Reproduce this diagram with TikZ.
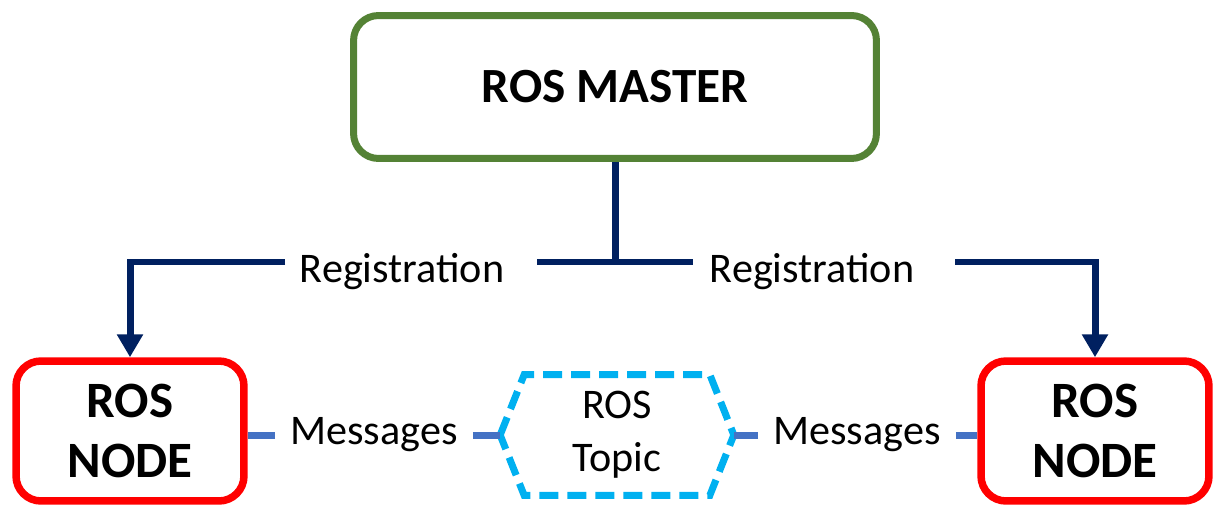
\documentclass[tikz,border=0pt]{standalone}
\usepackage{fontspec}
\setmainfont{Carlito}
\usetikzlibrary{arrows.meta,positioning}

\definecolor{masterGreen}{RGB}{84,130,53}
\definecolor{regBlue}{RGB}{0,32,96}
\definecolor{topicCyan}{RGB}{0,176,240}
\definecolor{msgBlue}{RGB}{68,114,196}

\begin{document}
\begin{tikzpicture}[x=0.02cm,y=-0.02cm,
    master/.style={draw=masterGreen, line width=0.14cm, rounded corners=0.5cm,
        minimum width=10.46cm, minimum height=2.86cm,
        font=\bfseries\fontsize{28}{34}\selectfont},
    rosnode/.style={draw=red, line width=0.15cm, rounded corners=0.5cm,
        minimum width=4.56cm, minimum height=2.8cm, align=center,
        font=\bfseries\fontsize{29}{34}\selectfont},
    topicbox/.style={minimum width=4.66cm, minimum height=2.4cm, inner sep=0pt,
        align=center, font=\fontsize{24}{30}\selectfont},
    topicline/.style={draw=topicCyan, line width=0.14cm, dash pattern=on 0.38cm off 0.18cm},
    label/.style={inner sep=0pt, inner xsep=0.3cm, font=\fontsize{24}{28}\selectfont},
    reg/.style={draw=regBlue, line width=0.14cm},
    msg/.style={draw=msgBlue, line width=0.14cm}
]

      \useasboundingbox (0,0) rectangle (1220,513);

      % Boxes
      \node[master] (master) at (615,87) {ROS MASTER};
      \node[rosnode] (nodeL) at (130,431) {ROS\\NODE};
      \node[rosnode] (nodeR) at (1095,431) {ROS\\NODE};
      \node[topicbox] (topic) at (617,435) {ROS\\Topic};

      % Hexagon round the topic
      \draw[topicline] (topic.west) -- ([xshift=0.48cm]topic.north west)
          -- ([xshift=-0.48cm]topic.north east) -- (topic.east)
          -- ([xshift=-0.48cm]topic.south east) -- ([xshift=0.48cm]topic.south west)
          -- cycle;

      % Labels
      \node[label, anchor=base] (regL) at (402,282) {Registration};
      \node[label, anchor=base] (regR) at (812,282) {Registration};
      \node[label] (msgL) at (374,435) {Messages};
      \node[label] (msgR) at (857,435) {Messages};

      % Registration lines
      \coordinate (junc) at (615,262);
      \coordinate (regLin) at (537,262);
      \coordinate (regLout) at (285,262);
      \coordinate (regRin) at (693,262);
      \coordinate (regRout) at (955,262);

      \draw[reg] (master.south) -- (junc);
      \draw[reg] (regLin) -- (regRin);
      \draw[reg, -{Triangle[width=0.5cm,length=0.46cm]}] (regLout) -| (nodeL.north);
      \draw[reg, -{Triangle[width=0.5cm,length=0.46cm]}] (regRout) -| (nodeR.north);

      % Messages lines
      \draw[msg] (msgL.west) -- (msgL.west -| nodeL.east);
      \draw[msg] (msgL.east) -- (topic.west);
      \draw[msg] (msgR.west) -- (topic.east);
      \draw[msg] (msgR.east) -- (msgR.east -| nodeR.west);

\end{tikzpicture}
\end{document}
